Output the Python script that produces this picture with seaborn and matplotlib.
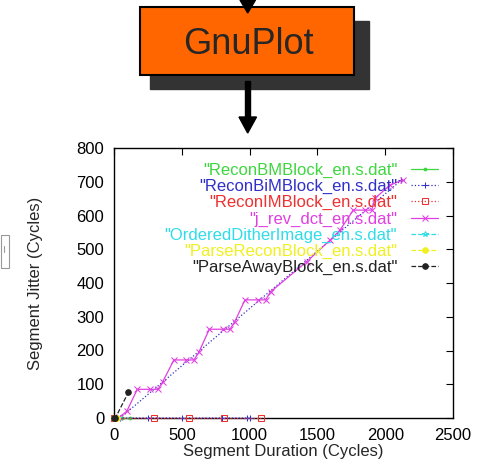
import numpy as np
import pandas as pd
import seaborn as sns
import matplotlib.pyplot as plt
from matplotlib.patches import Rectangle, Polygon

# series (segment duration, segment jitter)
recon_bm_x = [0, 60, 118]
recon_bm_y = [0, 0, 0]
recon_bim_x = [2120, 45, 250, 500, 800, 980, 1000]
recon_bim_y = [705, 0, 0, 0, 0, 0, 0]
recon_im_x = [0, 298, 556, 814, 1084]
recon_im_y = [0, 0, 0, 0, 0]
jrev_x = [40, 94, 172, 265, 325, 360, 442, 531, 590, 627, 703, 801, 855, 890,
          966, 1064, 1118, 1155, 1421, 1593, 1667, 1765, 1851, 1900, 1925, 2035, 2130]
jrev_y = [2, 20, 85, 85, 85, 108, 172, 172, 172, 196, 263, 263, 263, 285,
          350, 350, 350, 374, 463, 527, 557, 616, 616, 616, 651, 690, 705]
dither_x = [0, 30]
dither_y = [0, 0]
parse_recon_x = [0, 20]
parse_recon_y = [0, 0]
parse_away_x = [0, 10, 106]
parse_away_y = [0, 0, 76]

labels = ['"ReconBMBlock_en.s.dat"', '"ReconBiMBlock_en.s.dat"', '"ReconIMBlock_en.s.dat"',
          '"j_rev_dct_en.s.dat"', '"OrderedDitherImage_en.s.dat"',
          '"ParseReconBlock_en.s.dat"', '"ParseAwayBlock_en.s.dat"']
xs = [recon_bm_x, recon_bim_x, recon_im_x, jrev_x, dither_x, parse_recon_x, parse_away_x]
ys = [recon_bm_y, recon_bim_y, recon_im_y, jrev_y, dither_y, parse_recon_y, parse_away_y]
colors = ['#3fd63f', '#3030c8', '#ee3030', '#e040e0', '#30dce8', '#f0f020', '#222222']
styles = ['-', ':', ':', '-', '--', '--', '--']
markers = ['.', '+', 's', 'x', '*', 'o', 'o']

sns.set_style('white')
plt.rcParams['font.family'] = ['Liberation Sans', 'DejaVu Sans']

W, H = 481, 462
fig = plt.figure(figsize=(W / 100, H / 100), dpi=100)

# flow-chart part on top, drawn in pixel coordinates
bg = fig.add_axes([0, 0, 1, 1])
bg.set_xlim(0, W)
bg.set_ylim(H, 0)
bg.axis('off')
bg.add_patch(Rectangle((150, 21), 219, 68, color='#333333'))
bg.add_patch(Rectangle((140, 7), 214, 68, facecolor='#ff6600', edgecolor='black', lw=1.5))
bg.text(248, 45, 'GnuPlot', ha='center', va='center', fontsize=26)
bg.add_patch(Rectangle((245, -2), 5.5, 5, color='black'))
bg.add_patch(Polygon([(240, 0), (255.5, 0), (247.7, 13)], closed=True, color='black'))
bg.add_patch(Rectangle((245, 81), 5.5, 38, color='black'))
bg.add_patch(Polygon([(239, 117), (256.5, 117), (247.7, 133)], closed=True, color='black'))
bg.add_patch(Rectangle((0.5, 235), 8.5, 33, fill=False, edgecolor='#999999', lw=0.8))
bg.plot([4, 4], [246, 252], color='#999999', lw=0.8)

ax = fig.add_axes([114 / W, 1 - 418 / H, (453 - 114) / W, (418 - 148) / H])
for x, y, lab, c, ls, m in zip(xs, ys, labels, colors, styles, markers):
    df = pd.DataFrame({'dur': x, 'jit': y})
    sns.lineplot(data=df, x='dur', y='jit', sort=False, estimator=None, color=c,
                 linestyle=ls, marker=m, markersize=4, markeredgecolor=c,
                 markerfacecolor=c if m in ('o', '.') else 'none',
                 lw=0.9, label=lab, ax=ax, clip_on=False, zorder=3)

ax.set_xlim(0, 2500)
ax.set_ylim(0, 800)
ax.set_xticks(np.arange(0, 2501, 500))
ax.set_yticks(np.arange(0, 801, 100))
ax.tick_params(direction='in', length=5, width=0.8, top=True, right=True,
               labelsize=12, pad=7, colors='black')
for s in ax.spines.values():
    s.set_color('black')
    s.set_linewidth(1)
ax.set_xlabel('Segment Duration (Cycles)', fontsize=12, labelpad=1)
ax.set_ylabel('Segment Jitter (Cycles)', fontsize=12, labelpad=24)

leg = ax.legend(loc='upper right', frameon=False, markerfirst=False, fontsize=12,
                borderpad=0, borderaxespad=0.9, labelspacing=0.06,
                handlelength=1.6, handletextpad=0.85)
for t, c in zip(leg.get_texts(), colors):
    t.set_color(c)

fig.savefig('out.png', dpi=100)
